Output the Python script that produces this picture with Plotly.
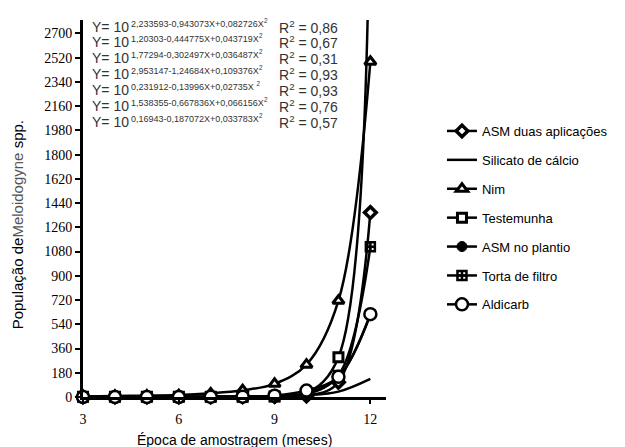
import plotly.graph_objects as go

months = [3, 4, 5, 6, 7, 8, 9, 10, 11, 12]

series_names = ["ASM duas aplicações", "Silicato de cálcio", "Nim", "Testemunha",
                "ASM no plantio", "Torta de filtro", "Aldicarb"]

asm_duas = [1, 1, 1, 1, 1, 2, 4, 8, 110, 1370]
silicato = [2, 2, 2, 2, 2, 3, 5, 13, 40, 135]
nim = [3, 7, 10, 14, 27, 50, 98, 240, 715, 2490]
testemunha = [1, 1, 1, 1, 1, 2, 4, 26, 295, 5500]
asm_plantio = [1, 1, 1, 1, 1, 2, 6, 30, 148, 612]
torta = [1, 1, 1, 1, 1, 2, 4, 20, 160, 1115]
aldicarb = [0, 0, 0, 0, 1, 2, 10, 48, 150, 615]

y_ticks = list(range(0, 2701, 180))
x_ticks = [3, 6, 9, 12]

eq_exponents = ["2,233593-0,943073X+0,082726X", "1,20303-0,444775X+0,043719X",
                "1,77294-0,302497X+0,036487X", "2,953147-1,24684X+0,109376X",
                "0,231912-0,13996X+0,02735X ", "1,538355-0,667836X+0,066156X",
                "0,16943-0,187072X+0,033783X"]
r2_values = ["0,86", "0,67", "0,31", "0,93", "0,93", "0,76", "0,57"]

# plot-area geometry (pixels)
L, R, T, B = 83, 397, 20, 397
W, H = R - L, B - T


def px(xp):
    return (xp - L) / W


def py(yp):
    return (B - yp) / H


styles = [
    dict(mode="lines+markers", marker=dict(symbol="diamond", size=9, color="white",
                                           line=dict(color="black", width=3.5))),
    dict(mode="lines", marker=dict()),
    dict(mode="lines+markers", marker=dict(symbol="triangle-up", size=10, color="white",
                                           line=dict(color="black", width=3))),
    dict(mode="lines+markers", marker=dict(symbol="square", size=9, color="white",
                                           line=dict(color="black", width=3))),
    dict(mode="lines+markers", marker=dict(symbol="circle", size=10, color="black",
                                           line=dict(color="black", width=1))),
    dict(mode="lines+markers", marker=dict(symbol="square-cross-open", size=9, color="black",
                                           line=dict(color="black", width=2.5))),
    dict(mode="lines+markers", marker=dict(symbol="circle", size=12, color="white",
                                           line=dict(color="black", width=2.5))),
]
data = [asm_duas, silicato, nim, testemunha, asm_plantio, torta, aldicarb]

fig = go.Figure()
for i, (name, vals, st) in enumerate(zip(series_names, data, styles)):
    fig.add_trace(go.Scatter(
        x=months, y=vals, name=name, mode=st["mode"], marker=st["marker"],
        line=dict(color="black", width=2.5, shape="spline", smoothing=1.0),
        cliponaxis=False, legendgroup=f"g{i}",
    ))

ann = []
eq_lines_y = [27, 42, 58, 74, 90, 106, 122]
for yl, ex, r2 in zip(eq_lines_y, eq_exponents, r2_values):
    ann.append(dict(x=px(90), y=py(yl), xref="paper", yref="paper", xanchor="left",
                    yanchor="middle", text="Y= 10", showarrow=False,
                    font=dict(family="Liberation Sans", size=14, color="#333")))
    ann.append(dict(x=px(131), y=py(yl - 4), xref="paper", yref="paper", xanchor="left",
                    yanchor="middle", text=ex + "<sup>2</sup>", showarrow=False,
                    font=dict(family="Liberation Sans", size=9, color="#333")))
    ann.append(dict(x=px(284), y=py(yl), xref="paper", yref="paper", xanchor="left",
                    yanchor="middle", text="R<sup>2</sup> = " + r2, showarrow=False,
                    font=dict(family="Liberation Sans", size=14, color="#333")))

ann.append(dict(x=px(240), y=py(440), xref="paper", yref="paper", xanchor="center",
                yanchor="middle", text="Época de amostragem (meses)", showarrow=False,
                font=dict(family="Liberation Sans", size=14, color="black")))
ann.append(dict(x=px(16), y=py(225), xref="paper", yref="paper", xanchor="center",
                yanchor="middle",
                text="População de<span style='color:#555'>Meloidogyne</span> spp.",
                showarrow=False, textangle=-90,
                font=dict(family="Liberation Sans", size=15, color="black")))

fig.update_layout(
    width=625, height=447,
    margin=dict(l=L, r=625 - R, t=T, b=447 - B),
    paper_bgcolor="white", plot_bgcolor="white",
    showlegend=True,
    legend=dict(x=px(455), y=py(116), xanchor="left", yanchor="top",
                font=dict(family="Liberation Sans", size=13, color="black"),
                tracegroupgap=9, bgcolor="rgba(0,0,0,0)"),
    annotations=ann,
    xaxis=dict(range=[3, 12.49], tickvals=x_ticks, ticks="outside", ticklen=4,
               tickwidth=2, tickcolor="black", showline=True, linecolor="black",
               linewidth=2.5, showgrid=False, zeroline=False, ticklabelstandoff=3,
               tickfont=dict(family="Liberation Serif", size=14, color="black")),
    yaxis=dict(range=[0, 2800], tickvals=y_ticks, ticks="outside", ticklen=5,
               tickwidth=2, tickcolor="black", showline=True, linecolor="black",
               linewidth=3, showgrid=False, zeroline=False,
               tickfont=dict(family="Liberation Serif", size=14, color="black")),
)

fig.write_html("out.html")
